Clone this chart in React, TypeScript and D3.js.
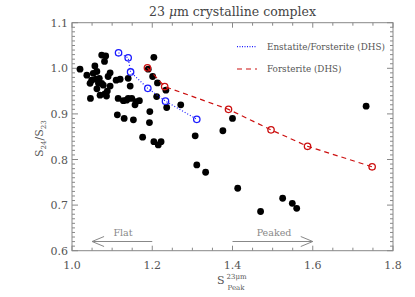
import React from "react";
import * as d3 from "d3";

const blackX = [1.020,1.037,1.046,1.057,1.053,1.062,1.049,1.060,1.068,1.066,1.074,1.078,1.070,1.082,1.086,1.074,1.084,1.081,1.090,1.095,1.095,1.110,1.120,1.140,1.145,1.115,1.128,1.140,1.149,1.157,1.168,1.113,1.130,1.153,1.176,1.194,1.193,1.204,1.215,1.222,1.204,1.190,1.201,1.213,1.211,1.234,1.236,1.271,1.307,1.311,1.333,1.376,1.400,1.733,1.413,1.525,1.549,1.560,1.470,1.045,1.062,1.088,1.160,1.136];
const blackY = [0.998,0.985,0.934,1.005,0.989,0.993,0.974,0.976,0.978,0.967,0.967,0.963,0.941,0.944,0.939,1.029,1.027,1.015,0.982,0.990,0.961,0.974,0.976,0.978,0.961,0.934,0.929,0.934,0.934,0.920,0.929,0.898,0.890,0.887,0.849,0.905,0.881,0.839,0.832,0.839,1.024,0.998,0.982,0.968,0.938,0.952,0.914,0.920,0.852,0.788,0.772,0.863,0.890,0.917,0.737,0.715,0.704,0.693,0.686,0.967,0.955,0.950,0.927,0.930];

const enstX = [1.116,1.140,1.146,1.189,1.233,1.311];
const enstY = [1.034,1.023,0.992,0.956,0.928,0.888];

const forsX = [1.188,1.231,1.390,1.496,1.587,1.748];
const forsY = [1.001,0.960,0.910,0.865,0.829,0.784];

const xTickLabels = [1.0,1.2,1.4,1.6,1.8];
const yTickLabels = [0.6,0.7,0.8,0.9,1.0,1.1];

const W = 415, H = 297;
const L = 72, R = 393, T = 22.7, B = 250.7;
const FONT = "DejaVu Serif";
const AX = "#888";
const TX = "#555";

export default function App() {
  const x = d3.scaleLinear().domain([1.0, 1.8]).range([L, R]);
  const y = d3.scaleLinear().domain([0.6, 1.1]).range([B, T]);
  const xMinor = d3.range(0, 17).map(i => 1.0 + i * 0.05);
  const yMinor = d3.range(0, 51).map(i => 0.6 + i * 0.01);
  const enstPath = d3.line<number>().x(d => x(enstX[d])).y(d => y(enstY[d]))(enstX.map((_, i) => i)) || "";
  const forsPath = d3.line<number>().x(d => x(forsX[d])).y(d => y(forsY[d]))(forsX.map((_, i) => i)) || "";
  const ay = 241.5;
  return (
    <svg width={W} height={H} style={{ position: "absolute", left: 0, top: 0, background: "#fff" }} fontFamily={FONT}>
      <rect x={L} y={T} width={R - L} height={B - T} fill="none" stroke={AX} strokeWidth={1} />
      {xMinor.map((v, i) => {
        const major = i % 4 === 0;
        const len = major ? 5 : 3;
        return (
          <g key={"xt" + i}>
            <line x1={x(v)} x2={x(v)} y1={B} y2={B - len} stroke={AX} />
            <line x1={x(v)} x2={x(v)} y1={T} y2={T + len} stroke={AX} />
          </g>
        );
      })}
      {yMinor.map((v, i) => {
        const major = i % 10 === 0;
        const len = major ? 6 : 3;
        return (
          <g key={"yt" + i}>
            <line x1={L} x2={L + len} y1={y(v)} y2={y(v)} stroke={AX} />
            <line x1={R} x2={R - len} y1={y(v)} y2={y(v)} stroke={AX} />
          </g>
        );
      })}
      {xTickLabels.map(v => (
        <text key={"xl" + v} x={x(v)} y={269} textAnchor="middle" fontSize={11} fill={TX}>{v.toFixed(1)}</text>
      ))}
      {yTickLabels.map(v => (
        <text key={"yl" + v} x={68} y={y(v) + 4} textAnchor="end" fontSize={11} fill={TX}>{v.toFixed(1)}</text>
      ))}
      <text x={(L + R) / 2} y={16} textAnchor="middle" fontSize={12.5} fill="#444">
        23 <tspan fontStyle="italic">μ</tspan>m crystalline complex
      </text>
      <g transform={`translate(43,${(T + B) / 2 + 2}) rotate(-90)`}>
        <text x={0} y={0} textAnchor="middle" fontSize={11} fill={TX}>
          S<tspan fontSize={7} dy={2.5}>24</tspan><tspan dy={-2.5}>/</tspan>S<tspan fontSize={7} dy={2.5}>23</tspan>
        </text>
      </g>
      <text x={217} y={284} fontSize={11} fill={TX}>S</text>
      <text x={226.5} y={279} fontSize={7} fill={TX}>23μm</text>
      <text x={227.5} y={290} fontSize={7} fill={TX}>Peak</text>

      <g stroke={AX} fill="none" strokeWidth={1}>
        <line x1={x(1.2)} x2={x(1.05)} y1={ay} y2={ay} />
        <polyline points={`${x(1.05) + 12},${ay - 5} ${x(1.05)},${ay} ${x(1.05) + 12},${ay + 5}`} />
        <line x1={x(1.4)} x2={x(1.6)} y1={ay} y2={ay} />
        <polyline points={`${x(1.6) - 12},${ay - 5} ${x(1.6)},${ay} ${x(1.6) - 12},${ay + 5}`} />
      </g>
      <text x={123} y={236} textAnchor="middle" fontSize={9.5} fill={AX}>Flat</text>
      <text x={274} y={236} textAnchor="middle" fontSize={9.5} fill={AX}>Peaked</text>

      {blackX.map((v, i) => (
        <circle key={"b" + i} cx={x(v)} cy={y(blackY[i])} r={3.4} fill="#000" />
      ))}
      <path d={enstPath} fill="none" stroke="#1a1aff" strokeWidth={1.2} strokeDasharray="1,2" />
      {enstX.map((v, i) => (
        <circle key={"e" + i} cx={x(v)} cy={y(enstY[i])} r={3.2} fill="none" stroke="#1a1aff" strokeWidth={1.3} />
      ))}
      <path d={forsPath} fill="none" stroke="#cc1010" strokeWidth={1.2} strokeDasharray="5,4" />
      {forsX.map((v, i) => (
        <circle key={"f" + i} cx={x(v)} cy={y(forsY[i])} r={3.2} fill="none" stroke="#cc1010" strokeWidth={1.3} />
      ))}

      <line x1={237} x2={257} y1={46.7} y2={46.7} stroke="#1a1aff" strokeWidth={1.2} strokeDasharray="1,1.5" />
      <text x={267} y={49.5} fontSize={8.8} fill={TX}>Enstatite/Forsterite (DHS)</text>
      <line x1={237} x2={257} y1={69} y2={69} stroke="#cc1010" strokeWidth={1.2} strokeDasharray="5,4" />
      <text x={267} y={72} fontSize={8.8} fill={TX}>Forsterite (DHS)</text>
    </svg>
  );
}
